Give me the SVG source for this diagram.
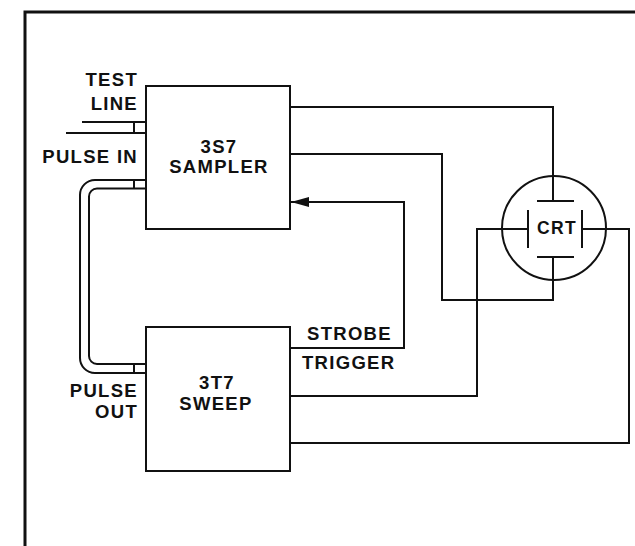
<svg xmlns="http://www.w3.org/2000/svg" width="635" height="546" viewBox="0 0 635 546">
<defs>
<style>
.ln{fill:none;stroke:#111;stroke-width:2;stroke-linejoin:miter}
.box{fill:#fff;stroke:#111;stroke-width:2}
.t{font-family:"Liberation Sans",Arial,sans-serif;font-weight:bold;font-size:18.5px;letter-spacing:1.3px;fill:#111}
.c{text-anchor:middle}
.e{text-anchor:end}
</style>
<marker id="arr" viewBox="0 0 18 10" refX="18" refY="5" markerWidth="18" markerHeight="10" markerUnits="userSpaceOnUse" orient="auto">
<path d="M0,0 L18,5 L0,10 z" fill="#111"/>
</marker>
</defs>
<rect width="635" height="546" fill="#fff"/>
<path d="M25,546 V12 H635" fill="none" stroke="#111" stroke-width="3"/>
<g id="connectors">
<path class="ln" d="M82,122 H146 M66,133 H146 M134,122 V133"/>
<path class="ln" d="M146,180 H95 A15,15 0 0 0 80,195 V358 A15,15 0 0 0 95,373 H146"/>
<path class="ln" d="M146,188.5 H97 A8,8 0 0 0 89,196.5 V356 A8,8 0 0 0 97,364 H146"/>
<path class="ln" d="M134,180 V188.5 M134,364 V373"/>
<path class="ln" d="M290,107 H553 V201"/>
<path class="ln" d="M290,154 H442 V300 H553 V257"/>
<path class="ln" d="M290,348 H404 V202 H291" marker-end="url(#arr)"/>
<path class="ln" d="M290,396 H477 V229 H528"/>
<path class="ln" d="M290,443 H629 V229 H582"/>
</g>
<g id="sampler">
<rect class="box" x="146" y="86" width="144" height="143"/>
<text class="t c" x="219" y="153">3S7</text>
<text class="t c" x="219" y="173">SAMPLER</text>
</g>
<g id="sweep">
<rect class="box" x="146" y="327" width="144" height="144"/>
<text class="t c" x="217" y="389">3T7</text>
<text class="t c" x="216" y="410">SWEEP</text>
</g>
<g id="crt">
<circle cx="554" cy="228" r="52" fill="none" stroke="#111" stroke-width="2"/>
<path class="ln" d="M537,201 H574 M537,257 H574 M528,210 V248 M582,210 V248"/>
<text class="t c" x="557" y="234" font-size="17.5" style="font-size:17.5px">CRT</text>
</g>
<g id="labels">
<text class="t e" x="138" y="86">TEST</text>
<text class="t e" x="138" y="110">LINE</text>
<text class="t e" x="138" y="163">PULSE IN</text>
<text class="t e" x="138" y="397">PULSE</text>
<text class="t e" x="138" y="418">OUT</text>
<text class="t" x="307" y="340">STROBE</text>
<text class="t" x="302" y="369">TRIGGER</text>
</g>
</svg>
